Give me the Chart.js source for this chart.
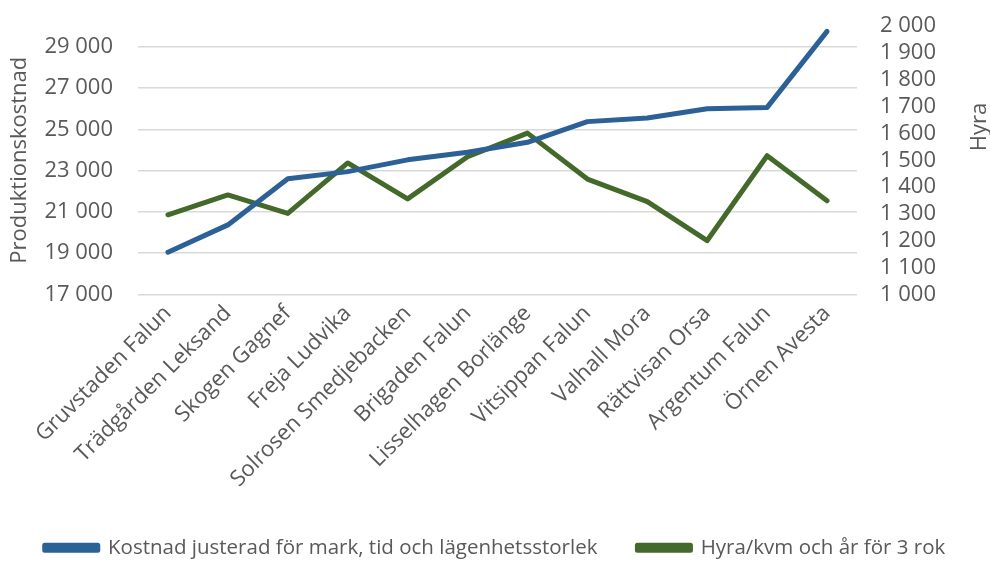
<!DOCTYPE html>
<html>
<head>
<meta charset="utf-8">
<script src="https://cdn.jsdelivr.net/npm/chart.js@4/dist/chart.umd.min.js"></script>
<style>
html,body{margin:0;padding:0;background:#fff;}
#wrap{width:990px;height:561px;position:relative;}
</style>
</head>
<body>
<div id="wrap"><canvas id="c" width="990" height="561"></canvas></div>
<script>
const categories = ["Gruvstaden Falun","Trädgården Leksand","Skogen Gagnef","Freja Ludvika","Solrosen Smedjebacken","Brigaden Falun","Lisselhagen Borlänge","Vitsippan Falun","Valhall Mora","Rättvisan Orsa","Argentum Falun","Örnen Avesta"];
const kostnad = [19050, 20370, 22600, 22950, 23520, 23890, 24370, 25370, 25550, 25990, 26060, 29740];
const hyra = [1297, 1371, 1302, 1490, 1356, 1513, 1601, 1430, 1346, 1201, 1517, 1349];
const leftTicks = [17000, 19000, 21000, 23000, 25000, 27000, 29000];
const rightTicks = [1000, 1100, 1200, 1300, 1400, 1500, 1600, 1700, 1800, 1900, 2000];
const seriesNames = ["Kostnad justerad för mark, tid och lägenhetsstorlek", "Hyra/kvm och år för 3 rok"];
const leftTitle = "Produktionskostnad";
const rightTitle = "Hyra";

const FONT = "'Open Sans', sans-serif";
const TXT = "#595959";
const fmt = v => String(v).replace(/\B(?=(\d{3})+(?!\d))/g, " ");

const rightTitlePlugin = {
  id: 'rightTitle',
  afterDraw(chart) {
    const ctx = chart.ctx;
    ctx.save();
    ctx.translate(980, 127);
    ctx.rotate(-Math.PI / 2);
    ctx.font = "22px " + FONT;
    ctx.fillStyle = TXT;
    ctx.textAlign = 'center';
    ctx.textBaseline = 'middle';
    ctx.fillText(rightTitle, 0, 0);
    ctx.restore();
  }
};

new Chart(document.getElementById('c'), {
  type: 'line',
  data: {
    labels: categories,
    datasets: [
      { label: seriesNames[0], data: kostnad, yAxisID: 'y', borderColor: '#2C6197', backgroundColor: '#2C6197', borderWidth: 5, pointRadius: 0, tension: 0, borderCapStyle: 'round', borderJoinStyle: 'round' },
      { label: seriesNames[1], data: hyra, yAxisID: 'y1', borderColor: '#43692B', backgroundColor: '#43692B', borderWidth: 5, pointRadius: 0, tension: 0, borderCapStyle: 'round', borderJoinStyle: 'round' }
    ]
  },
  options: {
    responsive: false,
    animation: false,
    devicePixelRatio: 1,
    layout: { padding: { top: 26, left: 0, right: 0, bottom: -7 } },
    plugins: {
      tooltip: { enabled: false },
      legend: {
        position: 'bottom',
        labels: {
          font: { family: FONT, size: 20.5 },
          color: TXT,
          boxWidth: 53,
          boxHeight: 5,
          padding: 40
        }
      }
    },
    scales: {
      x: {
        offset: true,
        grid: { display: false, drawTicks: false },
        border: { display: false },
        ticks: { font: { family: FONT, size: 22 }, color: TXT, minRotation: 45, maxRotation: 45, autoSkip: false, padding: 6 },
        afterFit(scale) { scale.height = 203; scale.paddingLeft = 0; scale.paddingRight = 0; }
      },
      y: {
        position: 'left',
        min: 17000, max: 30000,
        afterBuildTicks(scale) { scale.ticks = leftTicks.map(v => ({ value: v })); },
        afterFit(scale) { scale.width = 138; scale.paddingTop = 0; scale.paddingBottom = 0; },
        grid: { color: '#D9D9D9', lineWidth: 1.5, drawTicks: false },
        border: { display: false },
        ticks: { font: { family: FONT, size: 22 }, color: TXT, padding: 25, autoSkip: false, callback: v => fmt(v) },
        title: { display: true, text: leftTitle, font: { family: FONT, size: 22 }, color: TXT, padding: { top: 7, bottom: 0 } }
      },
      y1: {
        position: 'right',
        min: 1000, max: 2000,
        afterBuildTicks(scale) { scale.ticks = rightTicks.map(v => ({ value: v })); },
        afterFit(scale) { scale.width = 133; scale.paddingTop = 0; scale.paddingBottom = 0; },
        grid: { display: false, drawTicks: false },
        border: { display: false },
        ticks: { font: { family: FONT, size: 22 }, color: TXT, padding: 23, autoSkip: false, callback: v => fmt(v) }
      }
    }
  },
  plugins: [rightTitlePlugin]
});
</script>
</body>
</html>
